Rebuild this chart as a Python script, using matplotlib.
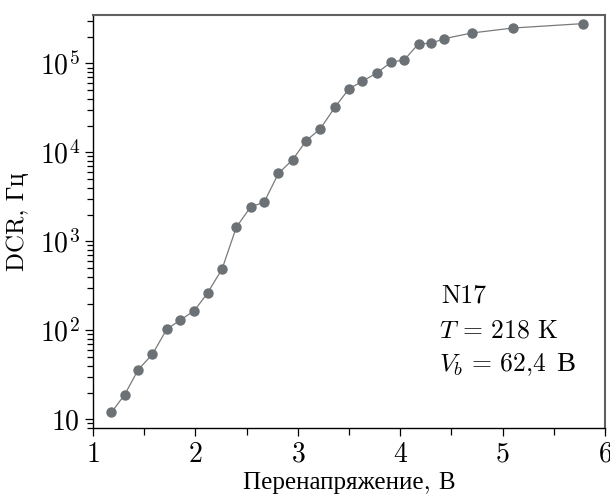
import matplotlib
matplotlib.use('Agg')
import matplotlib.pyplot as plt
import numpy as np
from matplotlib.ticker import FuncFormatter, LogLocator, MultipleLocator

# overvoltage, V
overvoltage = [1.18, 1.31, 1.44, 1.58, 1.72, 1.85, 1.99, 2.12, 2.26, 2.40,
               2.54, 2.67, 2.81, 2.95, 3.08, 3.22, 3.36, 3.50, 3.63, 3.77,
               3.91, 4.04, 4.18, 4.30, 4.43, 4.70, 5.10, 5.78]
# dark count rate, Hz
dcr = [12, 19, 36, 54, 103, 130, 167, 265, 490, 1450,
       2450, 2750, 5800, 8300, 13500, 18500, 32000, 52000, 63000, 78000,
       103000, 110000, 167000, 168000, 190000, 220000, 250000, 280000]

plt.rcParams['font.family'] = ['cmr10', 'Liberation Serif']
plt.rcParams['mathtext.fontset'] = 'cm'
plt.rcParams['axes.formatter.use_mathtext'] = True
plt.rcParams['axes.unicode_minus'] = False

fig = plt.figure(figsize=(6.1, 4.94), dpi=100)
ax = fig.add_axes([0.1525, 0.1336, 0.8395, 0.836])

ax.plot(overvoltage, dcr, '-', color='#7a7a7a', lw=0.9, zorder=2)
ax.plot(overvoltage, dcr, 'o', color='#6b7175', ms=7.5, mec='none', zorder=3)

ax.set_yscale('log')
ax.set_xlim(1, 6)
ax.set_ylim(8, 3.5e5)

def fmt(v, pos):
    e = int(round(np.log10(v)))
    return '$10$' if e == 1 else '$10^{%d}$' % e

ax.yaxis.set_major_locator(LogLocator(base=10, numticks=10))
ax.yaxis.set_minor_locator(LogLocator(base=10, subs=np.arange(2, 10), numticks=20))
ax.yaxis.set_major_formatter(FuncFormatter(fmt))
ax.xaxis.set_major_locator(MultipleLocator(1))
ax.xaxis.set_minor_locator(MultipleLocator(0.5))

ax.tick_params(which='both', direction='out', top=False, right=False,
               labelsize=20, width=0.9, color='black')
ax.tick_params(which='major', length=6)
ax.tick_params(which='minor', length=4)
ax.tick_params(axis='x', which='minor', length=5)

for s in ['left', 'bottom']:
    ax.spines[s].set_color('black')
    ax.spines[s].set_linewidth(1.0)
for s in ['top', 'right']:
    ax.spines[s].set_color('#606060')
    ax.spines[s].set_linewidth(1.5)

ax.set_xlabel('Перенапряжение, В', fontsize=18, labelpad=3)
ax.set_ylabel('DCR, Гц', fontsize=18, labelpad=8)

ax.text(0.681, 0.305, 'N17', transform=ax.transAxes, fontsize=18.5, va='baseline')
ax.text(0.676, 0.220, '$T\\,=\\,218$ K', transform=ax.transAxes, fontsize=18.5, va='baseline')
ax.text(0.676, 0.138, '$V_b\\,=\\,62{,}4$', transform=ax.transAxes, fontsize=18.5, va='baseline')
ax.text(0.905, 0.138, 'В', transform=ax.transAxes, fontsize=20.5, va='baseline')

fig.savefig('out.png', dpi=100)
